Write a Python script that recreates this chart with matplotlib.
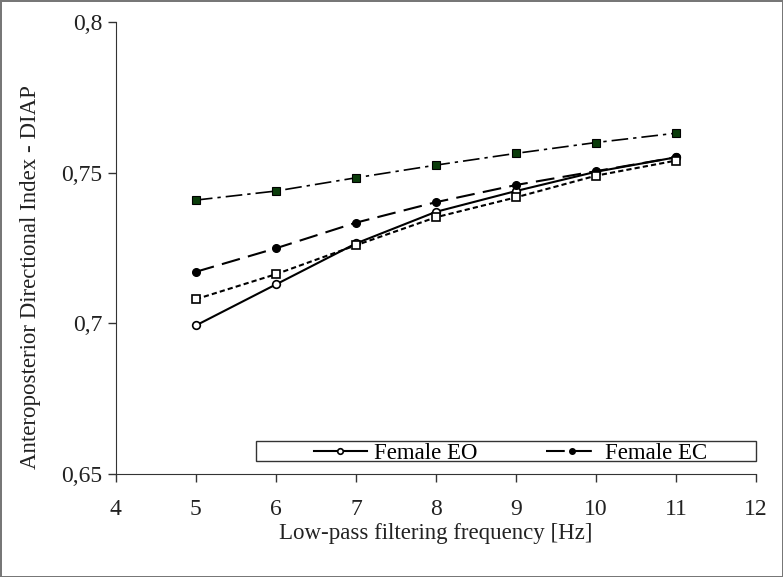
import matplotlib
matplotlib.use('Agg')
import matplotlib.pyplot as plt
from matplotlib.patches import Rectangle
from matplotlib.ticker import FuncFormatter

freq = [5, 6, 7, 8, 9, 10, 11]
female_eo = [0.6993, 0.7129, 0.7265, 0.7370, 0.7439, 0.7503, 0.7551]
female_ec = [0.7171, 0.7249, 0.7334, 0.7402, 0.7459, 0.7505, 0.7551]
male_eo = [0.7080, 0.7163, 0.7259, 0.7352, 0.7418, 0.7490, 0.7540]
male_ec = [0.7409, 0.7439, 0.7483, 0.7525, 0.7564, 0.7600, 0.7631]

plt.rcParams['font.family'] = ['Liberation Serif', 'DejaVu Serif']

fig = plt.figure(figsize=(7.83, 5.77), dpi=100, edgecolor='#777777', linewidth=2)
ax = fig.add_axes([0.148, 0.1785, 0.8175, 0.7834])

l1, = ax.plot(freq, female_eo, '-', color='black', lw=1.5, marker='o', ms=5.5,
              mfc='white', mec='black', mew=1.2, label='Female EO')
l2, = ax.plot(freq, female_ec, color='black', lw=1.5, dashes=(9, 4), marker='o', ms=5.5,
              mfc='black', mec='black', label='Female EC')
ax.plot(freq, male_eo, color='black', lw=1.5, dashes=(2.5, 1.5), marker='s', ms=6,
        mfc='white', mec='black', mew=1.2, label='Male EO')
ax.plot(freq, male_ec, color='black', lw=1.2, dashes=(10, 3, 2, 3), marker='s', ms=6,
        mfc='#0b3d0b', mec='black', mew=0.8, label='Male EC')

ax.set_xlim(4, 12)
ax.set_ylim(0.65, 0.8)
ax.set_xticks(range(4, 13))
ax.set_yticks([0.65, 0.7, 0.75, 0.8])
ax.yaxis.set_major_formatter(FuncFormatter(lambda v, p: ('%g' % round(v, 3)).replace('.', ',')))

ax.spines['top'].set_visible(False)
ax.spines['right'].set_visible(False)
ax.spines['left'].set_color('#333333')
ax.spines['bottom'].set_color('#333333')
ax.tick_params(direction='out', length=6, width=1, colors='#333333', labelsize=17,
               labelcolor='#222222')
ax.tick_params(axis='x', pad=12)

ax.set_xlabel('Low-pass filtering frequency [Hz]', fontsize=16.5, color='#222222', labelpad=2)
ax.set_ylabel('Anteroposterior Directional Index - DIAP', fontsize=16.5, color='#222222')
ax.yaxis.set_label_coords(-0.117, 0.436)

# legend box (only the first row is visible in the original)
ax.add_patch(Rectangle((0.219, 0.029), 0.781, 0.044, transform=ax.transAxes,
                       fill=True, facecolor='white', edgecolor='#333333', lw=1,
                       clip_on=False, zorder=4))
leg = ax.legend(handles=[l1, l2], loc='center', ncol=2, bbox_to_anchor=(0.617, 0.046),
                fontsize=16.5, frameon=False, borderpad=0.0,
                handlelength=2.3, handletextpad=0.3, columnspacing=3.0, borderaxespad=0)
leg.set_zorder(5)
for h in leg.legend_handles:
    h.set_markersize(4)

fig.savefig('out.png', dpi=100)
